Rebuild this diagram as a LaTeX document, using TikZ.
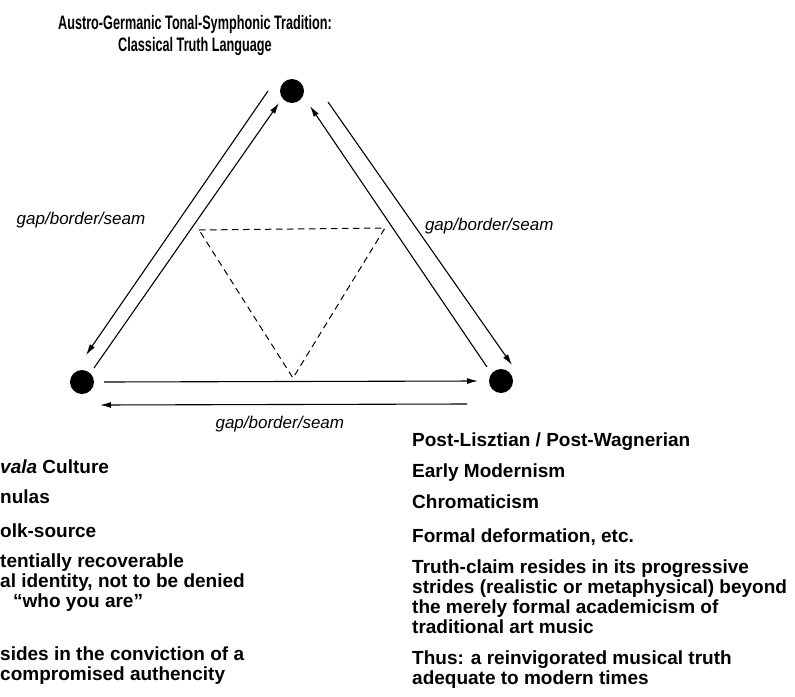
\documentclass[tikz,border=0pt]{standalone}
\usepackage{fontspec}
\setmainfont{Liberation Sans}
\newfontfamily\titlefont[FakeStretch=0.65]{Liberation Sans}
\usetikzlibrary{arrows.meta}

\begin{document}
\begin{tikzpicture}[
        x=1pt, y=-1pt,
        dot/.style={circle, fill=black, inner sep=0pt, minimum size=24pt},
        line/.style={draw, line width=1.1pt, -{Latex[length=11pt, width=6pt]}},
        seam/.style={draw, line width=1pt, dash pattern=on 6.5pt off 4.5pt},
        lbl/.style={font=\fontsize{17}{20}\selectfont\itshape, inner sep=0pt},
        col/.style={font=\fontsize{19}{20}\selectfont\bfseries, align=left,
            inner sep=0pt, anchor=base west}
    ]
    \useasboundingbox (0,0) rectangle (795,696);

    \node [font=\titlefont\bfseries\fontsize{19.5}{22}\selectfont, align=center,
        inner sep=0pt, anchor=base] (title) at (195,51) {
        Austro-Germanic Tonal-Symphonic Tradition:\\
        Classical Truth Language
    };

    \node [dot] (classic) at (292,91) {};
    \node [dot] (folk) at (82,382) {};
    \node [dot] (modern) at (501,381) {};

    % dashed inner triangle
    \coordinate (d1) at (199,230);
    \coordinate (d2) at (385,228);
    \coordinate (d3) at (293,378);
    \draw [seam] (d1) -- (d2) -- (d3) -- cycle;

    \draw [line] ([shift={(-24,0)}]classic.center) -- node[lbl, pos=.49, left=33pt] {gap/border/seam} ([shift={(4,-27)}]folk.center);
    \draw [line] ([shift={(12,-14)}]folk.center) -- ([shift={(-13,12)}]classic.center);
    \draw [line] ([shift={(-14,-14)}]modern.center) -- ([shift={(18,15)}]classic.center);
    \draw [line] ([shift={(36,11)}]classic.center) -- node[lbl, pos=.47, right=10pt] {gap/border/seam} ([shift={(11,-16)}]modern.center);
    \draw [line] ([shift={(22,0)}]folk.center) -- ([shift={(-23,0)}]modern.center);
    \draw [line] ([shift={(-34,23)}]modern.center) -- node[lbl, pos=.51, below=11pt] {gap/border/seam} ([shift={(18,23)}]folk.center);

    \node [col] (folklist) at (0,680) {
        \textit{vala} Culture\\[10pt]
        nulas\\[14pt]
        olk-source\\[10pt]
        tentially recoverable\\
        al identity, not to be denied\\
        \hspace*{13pt}“who you are”\\[33pt]
        sides in the conviction of a\\
        compromised authencity
    };

    \node [col] (modernlist) at (412,684) {
        Post-Lisztian / Post-Wagnerian\\[11pt]
        Early Modernism\\[11pt]
        Chromaticism\\[14pt]
        Formal deformation, etc.\\[11pt]
        Truth-claim resides in its progressive\\
        strides (realistic or metaphysical) beyond\\
        the merely formal academicism of\\
        traditional art music\\[11pt]
        Thus: a reinvigorated musical truth\\
        adequate to modern times
    };

\end{tikzpicture}
\end{document}
